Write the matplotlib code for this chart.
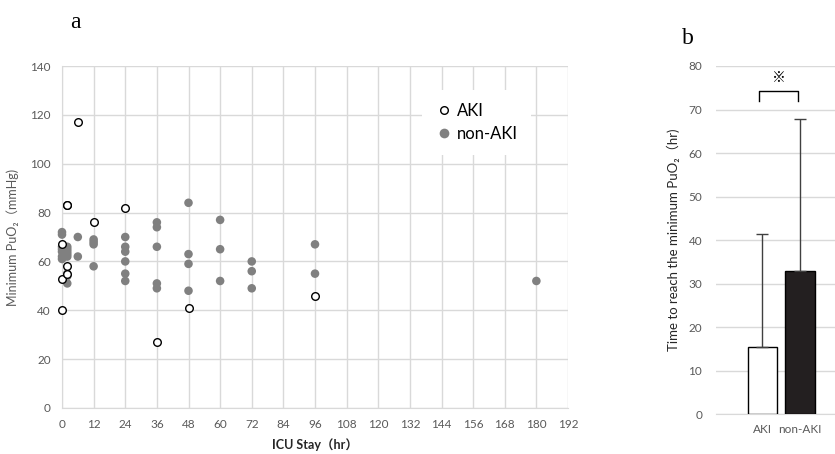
import matplotlib
matplotlib.use("Agg")
import matplotlib.pyplot as plt
from matplotlib.lines import Line2D

plt.rcParams['font.family'] = ['Lato', 'Noto Sans CJK JP', 'DejaVu Sans']

# Panel a data
aki_x = [0, 0, 0, 2, 2, 2, 2, 6, 12, 24, 36, 48, 96]
aki_y = [67, 53, 40, 83, 83.3, 58, 55, 117, 76, 82, 27, 41, 46]
non_x = [0, 0, 0, 0, 0, 0, 0,
         2, 2, 2, 2, 2, 2, 2, 2,
         6, 6,
         12, 12, 12, 12,
         24, 24, 24, 24, 24, 24,
         36, 36, 36, 36, 36,
         48, 48, 48, 48,
         60, 60, 60,
         72, 72, 72,
         96, 96,
         180]
non_y = [72, 71, 66, 65, 64, 62, 61,
         66, 65, 64, 63, 62, 55, 54, 51,
         70, 62,
         69, 68, 67, 58,
         70, 66, 64, 60, 55, 52,
         76, 74, 66, 51, 49,
         84, 63, 59, 48,
         77, 65, 52,
         60, 56, 49,
         67, 55,
         52]
x_ticks = list(range(0, 193, 12))
y_ticks = list(range(0, 141, 20))

# Panel b data
groups = ["AKI", "non-AKI"]
means = [15.5, 33.0]
upper_err = [25.8, 34.8]
b_ticks = list(range(0, 81, 10))

GRID = '#d9d9d9'
TICK = '#595959'

fig = plt.figure(figsize=(8.35, 4.54), dpi=100)

# ---------- Panel a ----------
ax = fig.add_axes([62/835, 46/454, 506/835, 342/454])
ax.set_xlim(0, 192)
ax.set_ylim(0, 140)
ax.set_xticks(x_ticks)
ax.set_yticks(y_ticks)
ax.grid(True, color=GRID, linewidth=1)
ax.set_axisbelow(True)
for s in ['top', 'right']:
    ax.spines[s].set_visible(False)
for s in ['left', 'bottom']:
    ax.spines[s].set_color(GRID)
ax.tick_params(length=0, labelsize=8.5, labelcolor=TICK, pad=8)
ax.scatter(non_x, non_y, s=38, color='#808080', edgecolor='none', zorder=3, clip_on=False)
ax.scatter(aki_x, aki_y, s=30, facecolor='white', edgecolor='black', linewidth=1.0, zorder=4, clip_on=False)
ax.set_xlabel("ICU Stay（hr）", fontsize=9, fontweight='bold', color='#262626', labelpad=6)
ax.set_ylabel("Minimum PuO₂（mmHg)", fontsize=9, color=TICK, labelpad=8)

handles = [Line2D([], [], linestyle='none', marker='o', markersize=5.5, markerfacecolor='white',
                  markeredgecolor='black', markeredgewidth=1.0),
           Line2D([], [], linestyle='none', marker='o', markersize=7, markerfacecolor='#808080',
                  markeredgecolor='none')]
leg = ax.legend(handles, ["AKI", "non-AKI"], loc='upper left', bbox_to_anchor=(0.695, 0.955),
                frameon=True, fontsize=12, handletextpad=0.3, labelspacing=0.4,
                borderpad=0.8, handlelength=1.0)
leg.get_frame().set_facecolor('white')
leg.get_frame().set_edgecolor('none')
leg.get_frame().set_alpha(1)

fig.text(75/835, 1 - 22/454, "a", fontsize=17, family='Liberation Serif', va='center', ha='center')
fig.text(688/835, 1 - 38/454, "b", fontsize=17, family='Liberation Serif', va='center', ha='center')

# ---------- Panel b ----------
bx = fig.add_axes([716/835, (454-414.3)/454, 119/835, 348.3/454])
bx.set_ylim(0, 80)
bx.set_xlim(-1.228, 1.928)
bx.set_yticks(b_ticks)
bx.set_xticks([0, 1])
bx.set_xticklabels(groups)
bx.yaxis.grid(True, color=GRID, linewidth=1)
bx.set_axisbelow(True)
for s in ['top', 'right', 'left']:
    bx.spines[s].set_visible(False)
bx.spines['bottom'].set_color(GRID)
bx.tick_params(length=0, labelsize=8.5, labelcolor=TICK)
bx.tick_params(axis='y', pad=10)
bx.tick_params(axis='x', pad=7)
bx.bar([0, 1], means, width=0.78, color=['white', '#231f20'], edgecolor='black', linewidth=1.0, zorder=3)
bx.errorbar([0, 1], means, yerr=[[0, 0], upper_err], fmt='none', ecolor='#404040',
            elinewidth=1.0, capsize=4, capthick=1.0, zorder=4)
bx.plot([-0.08, -0.08, 0.95, 0.95], [72.0, 74.3, 74.3, 72.0], color='black', linewidth=1.0)
bx.text(0.43, 77.3, "※", fontsize=10, ha='center', va='center', family=['Noto Sans CJK JP'])
bx.set_ylabel("Time to reach the minimum PuO₂（hr)", fontsize=9.5, color='#262626', labelpad=6)

fig.savefig("out.png", dpi=100)
